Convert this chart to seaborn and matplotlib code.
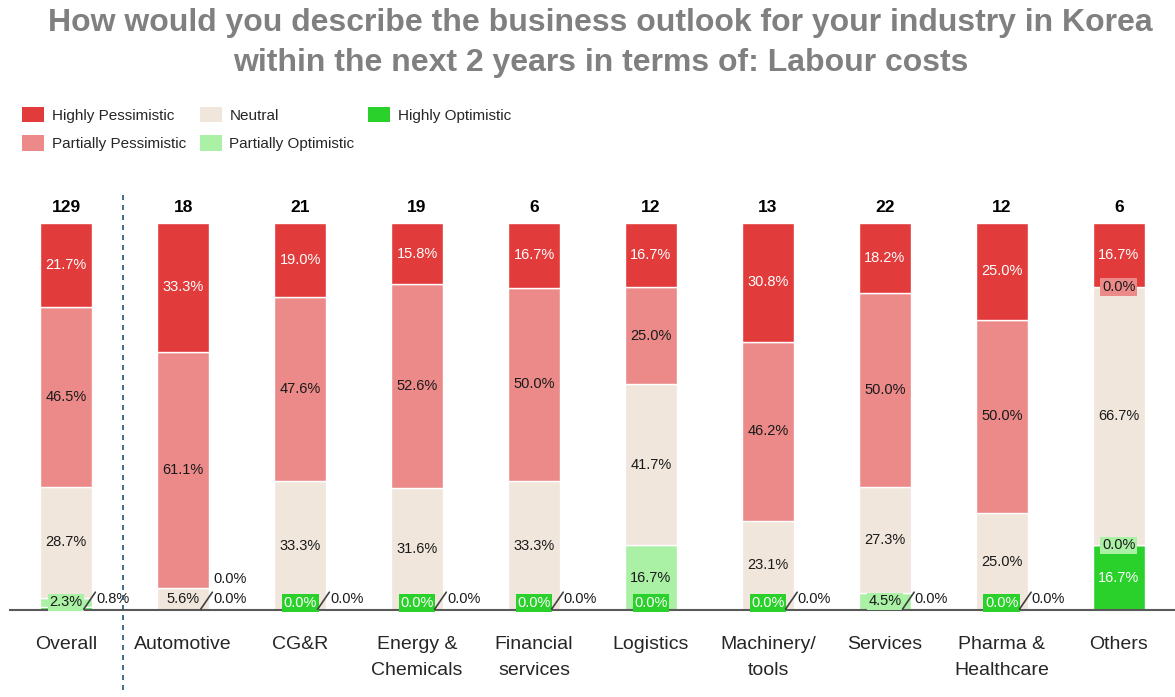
import matplotlib
matplotlib.use("Agg")
from matplotlib import pyplot as plt
from matplotlib.patches import Patch
import seaborn as sns

# chart data (percent of respondents), series listed bottom-up in the stack
categories = ["Overall", "Automotive", "CG&R", "Energy &\nChemicals", "Financial\nservices",
              "Logistics", "Machinery/\ntools", "Services", "Pharma &\nHealthcare", "Others"]
counts = [129, 18, 21, 19, 6, 12, 13, 22, 12, 6]
highly_optimistic = [0.8, 0.0, 0.0, 0.0, 0.0, 0.0, 0.0, 0.0, 0.0, 16.7]
partially_optimistic = [2.3, 0.0, 0.0, 0.0, 0.0, 16.7, 0.0, 4.5, 0.0, 0.0]
neutral = [28.7, 5.6, 33.3, 31.6, 33.3, 41.7, 23.1, 27.3, 25.0, 66.7]
partially_pessimistic = [46.5, 61.1, 47.6, 52.6, 50.0, 25.0, 46.2, 50.0, 50.0, 0.0]
highly_pessimistic = [21.7, 33.3, 19.0, 15.8, 16.7, 16.7, 30.8, 18.2, 25.0, 16.7]

series_names = ["Highly Optimistic", "Partially Optimistic", "Neutral",
                "Partially Pessimistic", "Highly Pessimistic"]
series_vals = [highly_optimistic, partially_optimistic, neutral,
               partially_pessimistic, highly_pessimistic]
colors = ["#2bd12b", "#aaf0a5", "#f0e6dc", "#ec8a89", "#e23b3b"]
text_colors = ["white", "#1a1a1a", "#1a1a1a", "#1a1a1a", "white"]

sns.set_style("white")
plt.rcParams['font.family'] = ['Liberation Sans', 'DejaVu Sans']

fig = plt.figure(figsize=(11.75, 6.97), dpi=100)
ax = fig.add_axes([10 / 1175, 87 / 697, 1 - 10 / 1175, 387 / 697])

BW = 0.44
n = len(categories)
bottoms = [0.0] * n
for name, vals, col in zip(series_names, series_vals, colors):
    sns.barplot(x=list(range(n)), y=vals, bottom=bottoms, color=col, saturation=1,
                width=BW, errorbar=None, edgecolor="white", linewidth=1, ax=ax)
    bottoms = [b + v for b, v in zip(bottoms, vals)]

lab_fs = 10.5


def seg_label(x, y, v, k, boxed=False):
    bbox = None
    if boxed:
        bbox = dict(boxstyle="square,pad=0.12", fc=colors[k], ec="none")
    ax.text(x, y, f"{v:.1f}%", ha="center", va="center", fontsize=lab_fs,
            color=text_colors[k], bbox=bbox, zorder=5)


def outside_label(x, y, v, line=True):
    xr = x + BW / 2
    ax.text(xr + 0.035, y, f"{v:.1f}%", ha="left", va="center", fontsize=lab_fs,
            color="#1a1a1a", zorder=5)
    if line:
        ax.plot([xr - 0.07, xr + 0.03], [0.2, 4.6], color="#404040", lw=1.2,
                zorder=6, clip_on=False)


for i in range(n):
    vals = [s[i] for s in series_vals]
    starts = [sum(vals[:k]) for k in range(5)]
    ho, po, neu = vals[0], vals[1], vals[2]
    handled = set()
    # bottom of the stack: both optimistic segments small
    if ho < 5 and po < 5:
        handled.update([0, 1])
        if neu < 8:
            outside_label(i, 8.0, po, line=False)
            outside_label(i, 2.8, ho)
        elif po > ho:
            seg_label(i, max(starts[1] + po / 2, 1.8), po, 1, boxed=True)
            outside_label(i, 2.8, ho)
        else:
            seg_label(i, 1.8, ho, 0, boxed=True)
            outside_label(i, 2.8, po)
    for k in range(5):
        if k in handled:
            continue
        v = vals[k]
        if v >= 5:
            seg_label(i, starts[k] + v / 2, v, k)
        else:
            seg_label(i, max(starts[k] + v / 2, 1.8), v, k, boxed=True)
    ax.text(i, 103.9, str(counts[i]), ha="center", va="center", fontsize=12.5,
            fontweight="bold", color="black", clip_on=False)

# separator between overall and industries
ax.plot([0.49, 0.49], [-20.7, 108.5], color="#1f5673", lw=1.2, ls=(0, (3, 3)),
        clip_on=False, zorder=6)

ax.set_xlim(-0.48, 9.48)
ax.set_ylim(0, 100)
ax.set_yticks([])
ax.set_xticks(range(n))
ax.set_xticklabels(categories, fontsize=14, color="#262626", linespacing=1.7)
ax.tick_params(axis="x", length=0, pad=18.5)
ax.set_xlabel("")
ax.set_ylabel("")
for sp in ["top", "left", "right"]:
    ax.spines[sp].set_visible(False)
ax.spines["bottom"].set_color("#595959")
ax.spines["bottom"].set_linewidth(1.5)

fig.text(0.511, 0.988, "How would you describe the business outlook for your industry in Korea\n"
         "within the next 2 years in terms of: Labour costs", ha="center", va="top",
         fontsize=23, fontweight="bold", color="#808080", linespacing=1.4)

order = [4, 3, 2, 1, 0]
handles = [Patch(facecolor=colors[k], edgecolor="none") for k in order]
labels = [series_names[k] for k in order]
fig.legend(handles, labels, loc="upper left", bbox_to_anchor=(8 / 1175, 1 - 93 / 697),
           ncol=3, frameon=False, fontsize=11, handlelength=1.45, handleheight=1.2,
           handletextpad=0.5, columnspacing=0.9, labelspacing=0.8)

fig.savefig("out.png", dpi=100)
